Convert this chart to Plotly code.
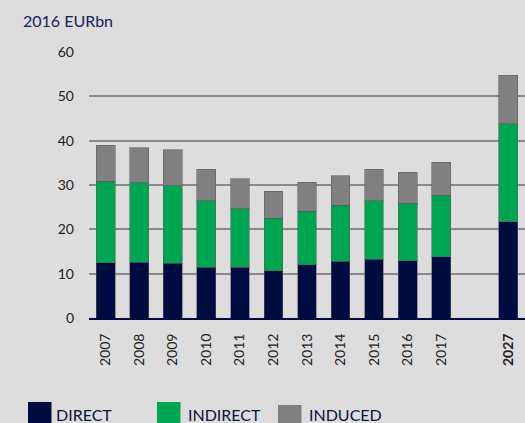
import plotly.graph_objects as go

years = ["2007", "2008", "2009", "2010", "2011", "2012", "2013", "2014", "2015", "2016", "2017", " ", "2027"]
tick_text = ["2007", "2008", "2009", "2010", "2011", "2012", "2013", "2014", "2015", "2016", "2017", "", "<b>2027</b>"]
direct = [12.5, 12.6, 12.4, 11.5, 11.4, 10.7, 12.0, 12.8, 13.2, 12.9, 13.8, None, 21.7]
indirect = [18.4, 17.9, 17.4, 15.0, 13.3, 11.8, 12.1, 12.6, 13.2, 13.0, 13.9, None, 22.1]
induced = [8.1, 7.9, 8.2, 7.0, 6.7, 6.1, 6.5, 6.7, 7.1, 7.0, 7.4, None, 11.0]
series_names = ["DIRECT", "INDIRECT", "INDUCED"]
colors = ["#000b40", "#00a551", "#808080"]
y_ticks = [0, 10, 20, 30, 40, 50, 60]

W, H = 525, 423
L, R, T, B = 89, 0, 52, 105
pw, ph = W - L - R, H - T - B

def px(x):
    return (x - L) / pw

def py(y):
    return (H - B - y) / ph

fig = go.Figure()
for name, vals, c in zip(series_names, [direct, indirect, induced], colors):
    fig.add_trace(go.Bar(
        x=years, y=vals, name=name, marker_color=c,
        marker_line=dict(color="rgba(90,90,90,0.55)", width=1),
        width=0.56, showlegend=False,
    ))

font_family = "Lato, 'Open Sans', sans-serif"
fig.update_layout(
    barmode="stack",
    width=W, height=H,
    margin=dict(l=L, r=R, t=T, b=B),
    paper_bgcolor="#dddddd",
    plot_bgcolor="#dddddd",
    font=dict(family=font_family, color="#222222", size=14),
    xaxis=dict(
        type="category", categoryorder="array", categoryarray=years,
        tickmode="array", tickvals=years, ticktext=tick_text,
        tickangle=-90, showgrid=False, showline=True, linecolor="#000b40", linewidth=2,
        ticks="", ticklabelstandoff=8, range=[-0.5, 12.5],
        tickfont=dict(size=14, color="#222222"),
    ),
    yaxis=dict(
        range=[0, 60], tickvals=y_ticks, showgrid=True, gridcolor="#8a8a8a", gridwidth=1.5,
        zeroline=False, showline=False, ticks="", ticklabelstandoff=14,
        tickfont=dict(size=14, color="#222222"),
    ),
)

fig.add_annotation(
    text="2016 EURbn", xref="paper", yref="paper", x=px(21), y=py(21),
    xanchor="left", yanchor="middle", showarrow=False,
    font=dict(size=16, color="#14235a", family=font_family),
)

legend_items = [(28, 402, 54), (157, 402, 186), (278, 405, 307)]
for (sx, sy, tx), name, c in zip(legend_items, series_names, colors):
    fig.add_shape(type="rect", xref="paper", yref="paper",
                  x0=px(sx), x1=px(sx + 23.5), y0=py(sy), y1=py(sy + 30),
                  fillcolor=c, line=dict(width=0))
    fig.add_annotation(text=name, xref="paper", yref="paper", x=px(tx), y=py(414),
                       xanchor="left", yanchor="middle", showarrow=False,
                       font=dict(size=16, color="#0a1440", family=font_family))

fig.write_html("out.html", config={"displayModeBar": False},
               post_script="document.body.style.margin='0';document.body.style.overflow='hidden';")
